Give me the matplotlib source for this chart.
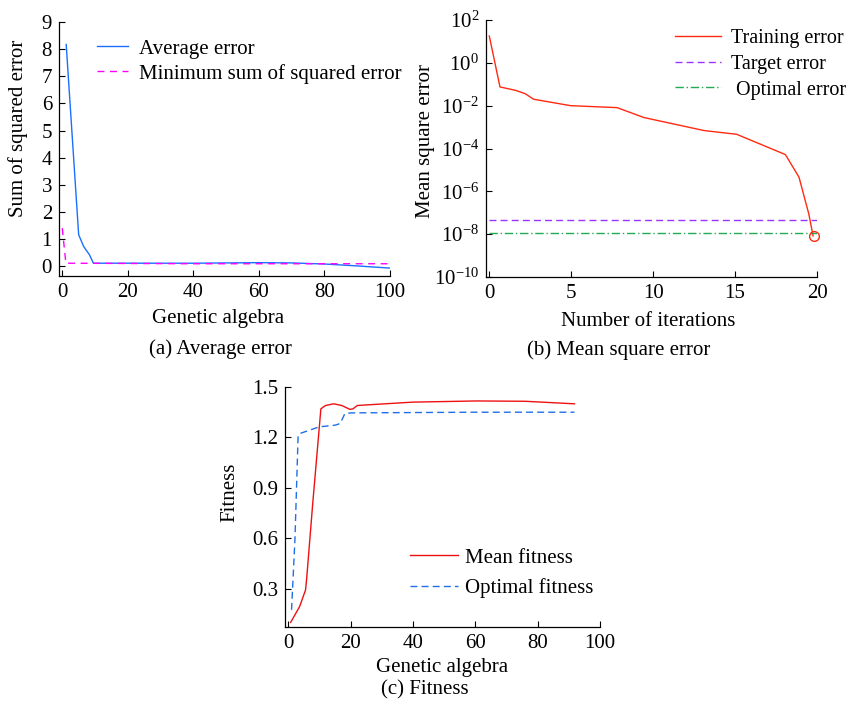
import matplotlib
matplotlib.use('Agg')
import matplotlib.pyplot as plt
import numpy as np

plt.rcParams['font.family'] = ['Liberation Serif', 'DejaVu Serif']
plt.rcParams['mathtext.fontset'] = 'stix'
plt.rcParams['font.size'] = 15

# (a) average error
a_avg_x = [1.2, 5.0, 6.5, 8.3, 9.5, 20, 40, 60, 70, 80, 90, 100]
a_avg_y = [8.17, 1.17, 0.74, 0.43, 0.12, 0.12, 0.12, 0.14, 0.13, 0.09, 0.02, -0.06]
a_min_x = [0, 1.1, 20, 40, 60, 80, 100]
a_min_y = [1.41, 0.12, 0.11, 0.10, 0.10, 0.10, 0.10]

# (b) mean square error
b_x = [0, 0.65, 1.6, 2.2, 2.7, 4.96, 7.8, 9.43, 13.1, 15.1, 18.07, 18.9, 19.5, 19.76]
b_y = [17.8, 0.075, 0.052, 0.036, 0.02, 0.01, 0.0081, 0.0028, 0.00069, 0.00046,
       5.2e-5, 4.6e-6, 8.7e-8, 8.3e-9]
b_target = 4.6e-8
b_optimal = 1.1e-8
b_end = (19.8, 8.3e-9)

# (c) fitness
c_mean_x = [0.8, 3.7, 5.6, 6.0, 7.9, 10.5, 12.0, 14.6, 17.2, 19.8, 20.8, 22.2,
            40, 60.5, 76, 91.8]
c_mean_y = [0.10, 0.195, 0.294, 0.373, 0.81, 1.37, 1.39, 1.40, 1.39, 1.367, 1.37,
            1.39, 1.41, 1.417, 1.415, 1.40]
c_opt_x = [1.1, 2.2, 3.2, 3.7, 10, 15.1, 16.7, 18.2, 20.3, 40, 60, 91.8]
c_opt_y = [0.175, 0.60, 1.21, 1.223, 1.263, 1.273, 1.283, 1.342, 1.346, 1.348, 1.35, 1.35]

fig = plt.figure(figsize=(8.5, 7.04), dpi=100)


def style(ax):
    ax.spines['top'].set_visible(False)
    ax.spines['right'].set_visible(False)
    ax.tick_params(direction='in', length=4, width=0.8, labelsize=15, pad=5)
    for s in ax.spines.values():
        s.set_linewidth(0.9)


# PANEL A
ax1 = fig.add_axes([0.0694, 0.608, 0.3894, 0.3608])
ax1.plot(a_avg_x, a_avg_y, color='#1a6fff', lw=1.0, label='Average error')
ax1.plot(a_min_x, a_min_y, color='#ff00ff', lw=1.0, ls=(0, (5, 4)),
         label='Minimum sum of squared error')
ax1.set_xlim(-1, 100)
ax1.set_ylim(-0.35, 9)
ax1.set_xticks([0, 20, 40, 60, 80, 100])
ax1.set_yticks(range(0, 10))
ax1.set_xlabel('Genetic algebra', fontsize=15)
ax1.set_ylabel('Sum of squared error', fontsize=15)
ax1.xaxis.set_label_coords(0.48, -0.13)
ax1.yaxis.set_label_coords(-0.094, 0.58)
style(ax1)
ax1.legend(loc='upper left', bbox_to_anchor=(0.07, 0.99), frameon=False,
           fontsize=15, handlelength=1.5, handletextpad=0.55, labelspacing=0.25,
           borderpad=0.2)
fig.text(0.259, 1 - 349 / 704, '(a) Average error', ha='center', va='center', fontsize=15)

# PANEL B
ax2 = fig.add_axes([0.5718, 0.6065, 0.3894, 0.3651])
ax2.semilogy(b_x, b_y, color='#ff2a10', lw=1.0, label='Training error')
ax2.plot([0, 20], [b_target, b_target], color='#9933ff', lw=1.0, ls=(0, (5, 3)),
         label='Target error')
ax2.plot([0, 20], [b_optimal, b_optimal], color='#22aa55', lw=1.0,
         ls=(0, (6, 2, 1, 2)), label=' Optimal error')
ax2.plot([b_end[0]], [b_end[1]], marker='o', mfc='none', mec='#ff2a10', ms=7, mew=1.0,
         clip_on=False)
ax2.set_xlim(-0.2, 20)
ax2.set_ylim(1e-10, 1e2)
ax2.set_xticks([0, 5, 10, 15, 20])
ax2.set_yticks([1e-10, 1e-8, 1e-6, 1e-4, 1e-2, 1e0, 1e2])
ax2.minorticks_off()
ax2.set_xlabel('Number of iterations', fontsize=15)
ax2.set_ylabel('Mean square error', fontsize=15)
ax2.xaxis.set_label_coords(0.49, -0.136)
ax2.yaxis.set_label_coords(-0.154, 0.53)
style(ax2)
ax2.legend(loc='upper right', bbox_to_anchor=(1.132, 1.02), frameon=False,
           fontsize=14.5, handlelength=2.3, handletextpad=0.5, labelspacing=0.33,
           borderpad=0.2)
fig.text(0.728, 1 - 350 / 704, '(b) Mean square error', ha='center', va='center', fontsize=15)

# PANEL C
ax3 = fig.add_axes([0.3353, 0.1094, 0.3706, 0.3409])
ax3.plot(c_mean_x, c_mean_y, color='#ee1111', lw=1.0, label='Mean fitness')
ax3.plot(c_opt_x, c_opt_y, color='#1f6fe8', lw=1.0, ls=(0, (5, 3)), label='Optimal fitness')
ax3.set_xlim(-1, 100)
ax3.set_ylim(0.073, 1.5)
ax3.set_xticks([0, 20, 40, 60, 80, 100])
ax3.set_yticks([0.3, 0.6, 0.9, 1.2, 1.5])
ax3.set_xlabel('Genetic algebra', fontsize=15)
ax3.set_ylabel('Fitness', fontsize=15)
ax3.xaxis.set_label_coords(0.50, -0.129)
ax3.yaxis.set_label_coords(-0.146, 0.56)
style(ax3)
ax3.legend(loc='lower left', bbox_to_anchor=(0.35, 0.06), frameon=False,
           fontsize=15, handlelength=2.3, handletextpad=0.35, labelspacing=0.5,
           borderpad=0.2)
fig.text(0.5, 1 - 690 / 704, '(c) Fitness', ha='center', va='center', fontsize=15)

fig.savefig('out.png', dpi=100)
